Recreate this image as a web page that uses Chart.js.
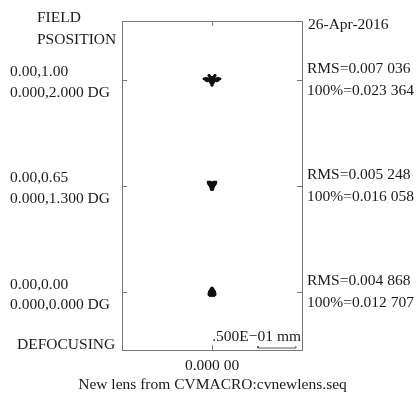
<!DOCTYPE html>
<html>
<head>
<meta charset="utf-8">
<script src="https://cdn.jsdelivr.net/npm/chart.js@4"></script>
<style>
  html, body { margin: 0; padding: 0; background: #fff; }
  #wrap { width: 420px; height: 393px; }
</style>
</head>
<body>
<div id="wrap"><canvas id="spotChart" width="420" height="393"></canvas></div>
<script>
// field rows, top to bottom
const fieldRel = ['0.00,1.00', '0.00,0.65', '0.00,0.00'];
const fieldAng = ['0.000,2.000 DG', '0.000,1.300 DG', '0.000,0.000 DG'];
const rmsVals = ['0.007 036', '0.005 248', '0.004 868'];
const fullVals = ['0.023 364', '0.016 058', '0.012 707'];

// ray intercepts relative to the chief ray, in micrometres (x, y up)
const spotFull = [
    [-10.4, 1.3], [-7.8, 2.0], [-5.9, 1.3], [-3.9, 0.7], [10.4, 1.3], [7.8, 2.0], [5.9, 1.3], [3.9, 0.7],
    [-7.8, -0.7], [7.8, -0.7], [-5.9, -1.3], [5.9, -1.3],
    [-3.9, 5.9], [-3.3, 4.6], [-2.0, 3.3], [3.9, 5.9], [3.3, 4.6], [2.0, 3.3], [0, 3.3], [-1.3, 2.0], [1.3, 2.0],
    [0, 0], [-2.0, 0], [2.0, 0], [0, 1.3], [-1.3, -1.3], [1.3, -1.3], [-2.6, -2.0], [2.6, -2.0],
    [0, -3.3], [0, -5.2], [0, -7.2], [-1.0, -4.6], [1.0, -4.6], [-1.6, -2.9], [1.6, -2.9]
];
const spotMid = [
    [-5.2, 4.6], [-3.9, 3.9], [-2.6, 4.6], [0, 3.9], [2.6, 4.6], [3.9, 3.9], [5.2, 4.6],
    [-4.6, 2.6], [-2.6, 2.6], [0, 2.6], [2.6, 2.6], [4.6, 2.6],
    [-3.3, 0.7], [-1.3, 0.7], [1.3, 0.7], [3.3, 0.7],
    [-2.0, -1.3], [0, -1.3], [2.0, -1.3], [-1.3, -3.3], [0, -3.3], [1.3, -3.3], [-0.7, -5.2], [0.7, -5.2]
];
const spotAxis = [
    [0, 5.2], [-1.0, 4.2], [1.0, 4.2], [-2.0, 2.6], [0, 2.6], [2.0, 2.6],
    [-3.3, 0.7], [-1.3, 0.7], [1.3, 0.7], [3.3, 0.7],
    [-3.9, -1.3], [-2.0, -1.3], [0, -1.3], [2.0, -1.3], [3.9, -1.3],
    [-3.9, -3.3], [-1.3, -3.3], [1.3, -3.3], [3.9, -3.3], [-2.6, -4.6], [0, -4.6], [2.6, -4.6]
];
const scaleBarMm = 0.05;
const scaleBarText = '.500E\u221201 mm';
const dateText = '26-Apr-2016';
const footer = 'New lens from CVMACRO:cvnewlens.seq';

// layout: where each field sits in the box (mm)
const fieldSlots = [0.139, 0.0, -0.140];
const X_HALF = 0.1184, Y_HALF = 0.2164;
const FONT = 'Liberation Serif, Times New Roman, serif';
const INK = '#1a1a1a';
const EDGE = '#777';

const toPts = (arr, slot) => arr.map(p => ({ x: p[0] / 1000, y: slot + p[1] / 1000 }));
const spots = [spotFull, spotMid, spotAxis];

const datasets = spots.map((s, i) => ({
    type: 'scatter',
    data: toPts(s, fieldSlots[i]),
    pointRadius: 1.5,
    pointBackgroundColor: '#111',
    pointBorderWidth: 0,
    xAxisID: 'x', yAxisID: 'y'
}));

// scale bar, anchored to the lower-right corner of the box
const barEnd = X_HALF - 0.008, barY = -Y_HALF + 0.0026, barCap = 0.0026;
datasets.push({
    type: 'line',
    data: [
        { x: barEnd - scaleBarMm, y: barY + barCap }, { x: barEnd - scaleBarMm, y: barY },
        { x: barEnd, y: barY }, { x: barEnd, y: barY + barCap }
    ],
    borderColor: '#555', borderWidth: 1, pointRadius: 0, fill: false,
    xAxisID: 'x', yAxisID: 'y'
});

const inwardTicks = {
    id: 'inwardTicks',
    afterDraw(chart) {
        const { ctx, chartArea: a, scales } = chart;
        const len = 5;
        ctx.save();
        ctx.strokeStyle = EDGE;
        ctx.lineWidth = 1;
        ctx.beginPath();
        const cx = Math.round(scales.x.getPixelForValue(0)) + 0.5;
        ctx.moveTo(cx, a.top); ctx.lineTo(cx, a.top + len);
        ctx.moveTo(cx, a.bottom); ctx.lineTo(cx, a.bottom - len);
        fieldSlots.forEach(v => {
            const py = Math.round(scales.y.getPixelForValue(v)) + 0.5;
            ctx.moveTo(a.left, py); ctx.lineTo(a.left + len, py);
            ctx.moveTo(a.right, py); ctx.lineTo(a.right - len, py);
        });
        ctx.stroke();

        // free text around the frame
        ctx.fillStyle = INK;
        ctx.font = '15.5px ' + FONT;
        ctx.textBaseline = 'middle';
        ctx.textAlign = 'left';
        ctx.fillText('FIELD', 37, 18);
        ctx.fillText('PSOSITION', 37, 40);
        ctx.fillText('DEFOCUSING', 17, 345);
        ctx.fillText(dateText, a.right + 6, 25);
        ctx.textAlign = 'right';
        ctx.fillText(scaleBarText, a.right - 1, 337);
        ctx.textAlign = 'center';
        ctx.fillText(footer, cx, 385);
        ctx.restore();
    }
};

const noPad = s => { s.paddingTop = 0; s.paddingBottom = 0; s.paddingLeft = 0; s.paddingRight = 0; };

new Chart(document.getElementById('spotChart'), {
    data: { datasets },
    options: {
        responsive: false,
        animation: false,
        layout: { autoPadding: false, padding: { left: 10, right: 0, top: 0, bottom: 0 } },
        plugins: { legend: { display: false }, tooltip: { enabled: false } },
        scales: {
            x: {
                type: 'linear', position: 'bottom', min: -X_HALF, max: X_HALF,
                afterBuildTicks: s => { s.ticks = [{ value: 0 }]; },
                afterFit: s => { s.height = 43; noPad(s); },
                grid: { display: false, drawTicks: false },
                border: { display: true, color: EDGE, width: 1 },
                ticks: {
                    padding: 7, color: INK, autoSkip: false, maxRotation: 0,
                    font: { family: FONT, size: 15.5 },
                    callback: () => '0.000 00'
                }
            },
            xTop: {
                type: 'linear', position: 'top', min: -X_HALF, max: X_HALF,
                afterFit: s => { s.height = 21; noPad(s); },
                grid: { display: false, drawTicks: false },
                border: { display: true, color: EDGE, width: 1 },
                ticks: { display: false }
            },
            y: {
                type: 'linear', position: 'left', min: -Y_HALF, max: Y_HALF,
                afterBuildTicks: s => { s.ticks = fieldSlots.map(v => ({ value: v })); },
                afterFit: s => { s.width = 112; noPad(s); },
                grid: { display: false, drawTicks: false },
                border: { display: true, color: EDGE, width: 1 },
                ticks: {
                    crossAlign: 'far', padding: 4, color: INK, autoSkip: false, labelOffset: 3,
                    font: { family: FONT, size: 15.5, lineHeight: 1.35 },
                    callback: (v, i) => [fieldRel[i], fieldAng[i]]
                }
            },
            yRight: {
                type: 'linear', position: 'right', min: -Y_HALF, max: Y_HALF,
                afterBuildTicks: s => { s.ticks = fieldSlots.map(v => ({ value: v })); },
                afterFit: s => { s.width = 118; noPad(s); },
                grid: { display: false, drawTicks: false },
                border: { display: true, color: EDGE, width: 1 },
                ticks: {
                    crossAlign: 'near', padding: 5, color: INK, autoSkip: false,
                    font: { family: FONT, size: 15.5, lineHeight: 1.42 },
                    callback: (v, i) => ['RMS=' + rmsVals[i], '100%=' + fullVals[i]]
                }
            }
        }
    },
    plugins: [inwardTicks]
});
</script>
</body>
</html>
